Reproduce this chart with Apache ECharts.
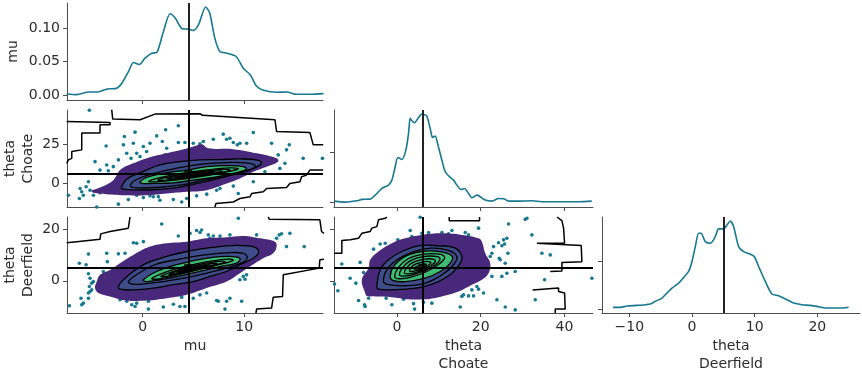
<!DOCTYPE html>
<html>
<head>
<meta charset="utf-8">
<script src="https://cdn.jsdelivr.net/npm/echarts@6/dist/echarts.min.js"></script>
<style>html,body{margin:0;padding:0;background:#fff}#chart{width:862px;height:375px}</style>
</head>
<body>
<div id="chart"></div>
<script>
// point estimates
const muEst = 4.49;
const choateEst = 6.1;
const deerEst = 5.0;

// tick values
const muTicks = [0, 10];
const choateTicks = [0, 20, 40];
const choateRowTicks = [0, 25];
const deerRowTicks = [0, 20];
const deerColTicks = [-10, 0, 10, 20];
const muDensTicks = [0, 0.05, 0.1];
const densTicks = [0, 0.05];

// marginal kde curves
const muGrid = [-7.48,-6.5,-5.3,-4.4,-3.5,-2.7,-2.1,-1.4,-0.9,-0.33,0.23,0.89,1.38,2.0,2.7,3.2,3.9,4.5,5.0,5.5,6.2,6.6,7.1,7.6,8.3,9.2,9.9,10.6,11.2,11.9,13.2,14.2,15.1,16.5,17.8];
const muDensity = [0.0015,0.0005,0.0045,0.0045,0.009,0.0095,0.0165,0.035,0.0485,0.0455,0.055,0.0625,0.0635,0.0925,0.1215,0.115,0.099,0.0985,0.0965,0.105,0.1315,0.1225,0.085,0.065,0.0625,0.0575,0.04,0.03,0.0135,0.007,0.004,0.0045,0.001,0.001,0.002];
const choateGrid = [-14.88,-12.33,-9.55,-8.35,-6.36,-5.17,-3.58,-1.99,-1.19,-0.40,0.24,1.19,2.15,2.78,3.18,3.58,4.22,5.01,5.97,6.76,7.16,7.96,8.51,9.15,9.71,10.74,11.54,12.73,13.52,14.32,15.27,16.15,17.1,17.9,19.1,19.9,21.1,22.7,24.3,25.5,26.7,29.0,32.2,34.6,38.6,43.4,46.5];
const choateDensity = [0.0013,0.0003,0.0016,0.003,0.0033,0.0072,0.0138,0.0171,0.022,0.0352,0.0444,0.0424,0.0516,0.0681,0.0829,0.0806,0.0786,0.0829,0.0872,0.0862,0.0852,0.073,0.0641,0.0655,0.0582,0.0418,0.0303,0.0247,0.022,0.0171,0.0128,0.0138,0.0089,0.0046,0.0072,0.0056,0.0023,0.0013,0.0039,0.0036,0.0013,0.0013,0.0016,0.0007,0.0007,0.0007,0.0013];
const deerGrid = [-12.6,-11.43,-10.37,-8.77,-7.44,-6.65,-5.85,-4.78,-3.99,-3.19,-2.13,-1.33,-0.53,0,0.53,1.06,1.44,2.13,2.92,3.72,4.25,5.05,5.58,6.11,6.65,7.44,8.24,9.3,9.94,10.63,11.7,12.76,13.82,15.15,16.21,17.54,18.87,19.94,21.0,22.6,24.19,24.99];
const deerDensity = [0.0024,0.0024,0.0037,0.0044,0.0051,0.0058,0.0085,0.0119,0.017,0.0221,0.0272,0.033,0.0391,0.0493,0.0646,0.0782,0.0782,0.0697,0.068,0.0748,0.0827,0.0827,0.0867,0.0908,0.085,0.0646,0.0595,0.0568,0.0544,0.0442,0.0289,0.016,0.0143,0.0102,0.0068,0.0051,0.0044,0.0034,0.002,0.0017,0.0017,0.0024];

// scatter draws visible outside the kde fill
const muChoatePts = [[-5.25,46.6],[-0.75,32.7],[-1.8,29.9],[-3.6,23.9],[-1.9,24.6],[-0.92,25.6],[0.07,23.5],[0.39,20.3],[-0.59,19.2],[-0.26,17.1],[-1.15,16.0],[-1.57,19.2],[-4.69,13.9],[-3.54,11.8],[-4.2,8.5],[-3.38,8.1],[-2.89,10.7],[-2.39,15.0],[3.51,36.8],[2.26,34.2],[1.38,30.3],[1.93,26.7],[2.36,22.4],[2.2,18.2],[0.72,25.6],[3.51,26.1],[4.16,26.1],[4.98,25.6],[5.64,25.2],[5.97,26.7],[6.95,28.2],[7.93,31.4],[8.26,28.2],[8.59,28.8],[8.92,26.1],[9.31,24.6],[9.57,25.6],[10.23,25.6],[10.89,32.5],[12.69,25.6],[13.34,18.2],[14.16,21.4],[14.43,24.6],[15.8,16.0],[17.7,16.0],[14.0,12.8],[13.51,9.6],[12.03,7.5],[13.02,15.0],[-7.31,-7.5],[-6.16,-3.2],[-5.34,1.1],[-5.57,-2.1],[-6.0,-5.3],[-5.84,-7.5],[-6.23,-9.6],[-5.18,-4.3],[-4.85,-7.5],[-4.2,-6.0],[-4.52,-15.0],[-2.39,-13.2],[-1.41,-10.3],[-0.59,-7.5],[0.07,-9.0],[0.72,-7.9],[1.05,-8.5],[1.54,-8.4],[1.7,-10.7],[3.02,-10.3],[3.84,-11.8],[4.33,-9.6],[5.31,-7.9],[6.3,-6.8],[7.28,-4.3],[7.61,-3.2],[8.92,-1.7],[10.89,1.1],[9.41,-6.4],[-7.48,-14.5]];
const muDeerPts = [[-7.48,-3.8],[-7.21,-9.6],[-5.34,10.3],[-5.57,6.2],[-5.34,2.7],[-5.18,1.0],[-5.02,-0.9],[-4.85,-0.3],[-5.25,-2.2],[-5.18,-4.1],[-5.02,-3.5],[-5.34,-4.7],[-5.34,-6.7],[-6.07,-6.7],[-5.84,-8.6],[-6.0,-9.2],[-6.23,6.8],[-3.54,10.6],[-3.48,7.4],[-2.39,10.4],[-1.74,10.6],[-0.92,14.7],[-0.59,14.5],[0.07,15.1],[-1.57,7.4],[-3.87,3.6],[-2.23,-7.3],[-1.57,-7.9],[-1.08,-9.2],[-0.75,-9.9],[-0.59,-8.6],[0.56,-10.9],[2.03,-10.1],[3.02,-9.0],[3.84,-6.3],[3.67,-9.9],[4.98,-6.7],[5.64,-5.4],[6.3,-4.7],[7.28,-7.6],[7.44,-7.9],[8.26,-7.9],[8.59,-6.7],[8.1,-10.9],[9.74,-7.9],[9.57,0.4],[9.9,1.7],[10.07,0.6],[10.23,2.3],[1.87,21.9],[3.51,17.3],[4.66,18.3],[5.31,19.4],[5.64,18.6],[5.8,19.6],[6.46,17.7],[6.62,16.4],[6.95,17.3],[7.61,17.3],[8.59,17.7],[9.25,24.7],[9.41,24.1],[11.21,17.7],[13.44,17.7],[13.67,18.1],[13.18,16.4],[14.16,13.2],[14.49,18.3],[15.9,13.2],[17.84,13.8],[4.16,-9.9],[0.56,-7.9]];
const choDeerPts = [[-14.88,-1.2],[-14.08,-3.8],[-13.13,6.5],[-11.14,1.0],[-9.79,-0.9],[-9.15,-7.6],[-8.75,7.1],[-7.72,-9.2],[-7.56,-9.9],[-7.96,3.2],[-6.76,-6.7],[-5.57,12.2],[-3.98,14.2],[-2.78,14.5],[-2.55,-6.7],[-1.19,-9.2],[0.24,15.8],[1.59,-7.1],[3.18,19.4],[3.58,17.1],[3.98,-8.8],[4.22,-10.9],[5.57,24.5],[5.97,18.3],[6.36,-8.3],[8.35,-8.6],[7.56,18.6],[10.74,18.6],[12.33,18.1],[13.13,19.4],[15.12,-10.1],[15.51,-6.0],[15.91,-5.4],[16.31,18.6],[17.1,17.7],[17.1,-5.8],[17.9,-3.5],[18.3,-5.8],[19.09,-2.2],[19.49,20.3],[19.49,-3.2],[20.68,-4.7],[21.08,4.9],[21.72,7.1],[22.28,9.4],[22.67,10.6],[22.67,1.7],[23.07,13.2],[23.87,-7.3],[24.26,14.7],[24.42,8.7],[24.66,8.1],[25.06,13.5],[25.46,15.8],[25.7,14.2],[25.86,6.8],[26.25,16.4],[26.49,10.6],[26.65,21.9],[25.06,1.7],[26.25,2.9],[25.86,-10.1],[28.24,3.6],[28.24,-11.2],[30.63,23.7],[31.03,24.1],[32.22,17.7],[33.02,-7.3],[34.61,10.6],[35.24,0.4],[36.6,10.0],[46.54,1.0]];

// kde contour outlines (mu vs Choate)
const muChoatePurple = [[-5.02,-4.7],[-4.2,-2.6],[-2.89,2.1],[-2.23,8.5],[-0.92,12.8],[0.72,16.7],[2.36,19.2],[3.84,21.4],[4.98,23.5],[5.8,25.0],[6.46,22.4],[8.92,21.8],[11.21,19.2],[13.18,16.0],[13.34,13.9],[12.2,10.7],[10.89,7.5],[9.57,3.2],[8.26,0],[6.3,-4.3],[4.33,-5.3],[2.36,-6.4],[0.39,-7.5],[-1.57,-7.5],[-3.54,-6.8],[-4.85,-6.0]];
const muChoateBlue = [[-2.1,-2.6],[-1.5,3.0],[0.0,7.5],[1.7,11.8],[3.67,13.9],[5.64,15.0],[7.61,15.2],[9.57,15.6],[11.3,14.8],[11.7,12.8],[10.9,9.6],[9.3,6.4],[7.5,3.2],[5.4,0],[3.2,-2.8],[1.05,-4.0],[-0.92,-4.1],[-1.9,-3.6]];
const muChoateMid = [[-1.2,-1.5],[-0.6,2.5],[1.0,6.2],[3.2,9.5],[5.8,12.3],[8.2,13.3],[10.4,13.0],[11.1,11.0],[10.3,8.0],[8.3,4.8],[6.0,2.0],[4.0,-0.8],[1.5,-2.5],[-0.5,-2.8]];
const muChoateGreen = [[-0.26,1.1],[0.39,3.8],[2.03,6.4],[4.33,8.5],[6.3,10.7],[8.26,11.3],[9.9,10.7],[10.23,9.0],[8.92,6.4],[6.95,3.8],[4.98,2.1],[3.02,0.4],[1.05,0],[-0.1,0]];
const muChoateRings = [
  [[0.6,1.4],[1.8,3.8],[3.8,6.4],[6.3,8.6],[8.6,9.9],[9.4,9.3],[7.8,6.8],[5.5,4.2],[3.0,2.0],[1.2,1.0]],
  [[1.5,2.2],[2.5,4.0],[4.2,6.2],[6.4,8.1],[8.2,9.0],[8.6,8.4],[7.3,6.5],[5.4,4.6],[3.3,2.7],[2.0,1.9]],
  [[2.4,3.0],[3.2,4.3],[4.6,6.0],[6.4,7.5],[7.6,8.0],[7.8,7.5],[6.8,6.2],[5.3,5.0],[3.7,3.5],[2.8,2.8]],
  [[3.2,3.8],[3.9,4.7],[5.0,5.9],[6.3,6.9],[7.0,7.2],[7.0,6.8],[6.3,6.0],[5.2,5.2],[4.1,4.2],[3.5,3.7]],
  [[4.0,4.5],[4.6,5.2],[5.3,5.8],[6.0,6.3],[6.3,6.3],[6.1,5.9],[5.4,5.4],[4.6,4.8]]
];

// kde contour outlines (mu vs Deerfield)
const muDeerPurple = [[-4.52,-0.26],[-4.2,2.3],[-3.21,4.2],[-2.23,6.8],[-0.92,10.0],[0.72,13.2],[2.36,14.5],[4.33,15.1],[6.3,16.4],[8.26,16.8],[9.9,17.3],[11.54,16.4],[13.02,15.1],[13.18,13.2],[12.85,10.6],[11.87,8.7],[10.56,5.5],[9.57,2.9],[8.26,-0.3],[6.3,-2.8],[4.33,-5.4],[2.36,-6.7],[0.39,-7.6],[-1.57,-7.6],[-3.21,-6.0],[-4.36,-4.7],[-4.69,-2.8]];
const muDeerBlue = [[-2.39,-2.2],[-1.9,0.4],[-0.92,3.6],[0.39,6.8],[2.36,9.4],[4.33,11.3],[6.3,12.6],[8.26,13.5],[10.23,13.5],[11.21,12.6],[11.38,10.6],[10.89,8.7],[9.57,6.2],[8.26,3.6],[6.62,1.7],[4.98,-0.3],[3.02,-1.5],[1.05,-2.8],[-0.92,-3.5],[-2.23,-3.2]];
const muDeerMid = [[-1.41,-0.3],[-0.4,2.9],[1.2,6.2],[3.5,8.3],[5.9,9.9],[8.26,10.8],[9.9,10.6],[10.3,8.9],[9.8,7.0],[8.3,5.0],[6.3,3.0],[4.3,1.2],[2.2,-0.2],[0.2,-1.2],[-1.0,-1.3]];
const muDeerGreen = [[0.07,0.4],[1.38,3.6],[3.34,6.2],[5.64,8.3],[8.26,9.4],[9.57,8.7],[9.25,6.8],[7.61,5.5],[5.64,3.6],[3.67,1.9],[1.7,0.4],[0.39,-0.3]];
const muDeerRings = [
  [[0.9,0.9],[2.2,3.3],[4.2,5.6],[6.4,7.4],[8.4,8.4],[8.9,7.9],[7.5,6.2],[5.5,4.3],[3.4,2.3],[1.6,0.7]],
  [[1.8,1.7],[2.9,3.5],[4.5,5.3],[6.4,6.9],[7.8,7.6],[8.1,7.2],[7.0,6.0],[5.4,4.5],[3.6,2.8],[2.3,1.7]],
  [[2.6,2.5],[3.5,3.8],[4.8,5.2],[6.3,6.4],[7.2,6.8],[7.3,6.5],[6.5,5.7],[5.3,4.7],[3.9,3.4],[3.0,2.6]],
  [[3.4,3.3],[4.1,4.2],[5.0,5.1],[6.1,5.9],[6.6,6.1],[6.6,5.8],[6.0,5.3],[5.1,4.7],[4.2,3.9],[3.7,3.4]],
  [[4.1,4.0],[4.6,4.6],[5.2,5.1],[5.8,5.5],[6.0,5.5],[5.7,5.1],[5.1,4.7],[4.5,4.2]]
];

// kde contour outlines (Choate vs Deerfield)
const choDeerPurple = [[-7.56,-4.7],[-8.35,0.4],[-6.76,4.9],[-6.36,8.1],[-4.38,11.3],[-1.19,14.5],[1.99,16.4],[5.97,17.7],[10.74,18.3],[15.51,17.7],[19.49,16.4],[20.29,15.1],[21.08,10.6],[22.28,6.8],[21.88,2.9],[20.29,0.4],[17.9,-1.5],[14.72,-4.1],[10.74,-6.0],[6.76,-7.1],[2.78,-7.1],[-1.19,-6.3],[-5.17,-6.0],[-7.16,-5.8]];
const choDeerBlue = [[-4.77,-2.2],[-3.98,4.2],[-1.99,8.1],[1.19,11.3],[5.17,13.5],[9.94,13.5],[13.92,12.6],[15.51,9.4],[15.12,6.8],[13.13,2.9],[9.94,-0.3],[5.97,-2.4],[1.99,-3.2],[-1.99,-3.5],[-4.38,-3.2]];
const choDeerMid = [[-3.18,-0.3],[-2.39,4.2],[0,8.1],[3.4,10.9],[8.2,12.6],[12.33,11.7],[14.32,9.4],[13.52,6.2],[10.74,2.3],[6.76,-0.9],[1.99,-1.9],[-1.99,-1.5]];
const choDeerGreen = [[-1.59,1.7],[-0.8,5.5],[1.99,9.4],[5.97,11.3],[9.94,11.3],[13.13,9.6],[12.73,6.8],[10.34,3.6],[6.76,1.0],[1.99,-0.3],[-0.8,0.1]];
const choDeerRings = [
  [[-0.5,1.5],[0.4,5.2],[2.8,8.6],[6.5,10.3],[10.5,10.2],[11.4,8.8],[9.8,6.2],[7.0,3.5],[3.2,1.3],[0.6,0.8]],
  [[0.6,2.3],[1.4,5.2],[3.4,7.9],[6.6,9.4],[9.7,9.3],[10.3,8.2],[9.0,6.0],[6.6,3.9],[3.5,2.2],[1.4,1.8]],
  [[1.8,3.0],[2.4,5.2],[4.0,7.2],[6.6,8.4],[8.8,8.3],[9.2,7.5],[8.1,5.8],[6.3,4.3],[4.0,3.0],[2.5,2.7]],
  [[3.0,3.8],[3.4,5.2],[4.6,6.5],[6.6,7.4],[7.9,7.3],[8.1,6.8],[7.2,5.6],[5.9,4.6],[4.4,3.8],[3.5,3.6]],
  [[4.2,4.5],[4.5,5.3],[5.3,6.0],[6.4,6.5],[7.0,6.4],[6.9,6.0],[6.3,5.4],[5.4,4.8]]
];

// low-level contour lines along the panel edges
const muChoateEdge1 = [[-7.48,39.5],[-3.21,38.9],[-3.21,37.4],[-4.2,37.4],[-4.2,32.1],[-6.0,32.1],[-6.0,21.4],[-6.98,20.3],[-6.98,16.0],[-7.31,15.0],[-7.48,12.8]];
const muChoateEdge2 = [[-3.05,47.0],[-2.95,41.0],[-0.26,40.6],[1.21,44.2],[5.64,44.4],[5.9,43.4],[13.02,40.6],[13.18,33.1],[16.46,32.5],[16.79,24.6],[17.77,24.6]];
const muChoateEdge3 = [[7.11,-15.0],[7.21,-12.8],[8.92,-11.8],[9.57,-9.6],[10.56,-8.5],[10.72,-6.4],[11.87,-5.3],[12.2,-3.2],[14.16,-2.6],[14.49,0],[15.48,1.1],[15.64,4.3],[16.13,5.3],[16.46,8.5],[17.77,8.5]];
const muDeerEdge1 = [[-7.48,14.7],[-6.49,15.1],[-6.43,15.5],[-4.2,16.0],[-4.13,18.1],[-3.21,19.0],[-3.15,19.6],[-1.41,20.3],[-1.25,24.6]];
const muDeerEdge2 = [[12.36,24.7],[12.46,23.7],[17.44,23.5],[17.61,19.0],[17.84,18.3]];
const muDeerEdge3 = [[17.84,8.3],[17.44,8.1],[17.38,4.9],[13.84,2.3],[13.77,-6.0],[12.85,-6.3],[12.69,-10.5],[11.21,-10.9],[11.15,-12.4]];
const choDeerEdge1 = [[-14.88,10.6],[-13.13,10.6],[-13.13,15.5],[-11.14,15.8],[-10.9,16.4],[-9.15,16.4],[-8.35,18.3],[-6.36,19.0],[-5.97,20.3],[-4.77,20.9],[-4.38,23.5],[-2.78,24.1],[-2.39,24.6]];
const choDeerEdge2 = [[12.49,24.6],[12.49,23.2],[19.73,23.2],[19.73,24.6]];
const choDeerEdge3 = [[38.19,24.6],[39.38,23.2],[39.78,20.3],[40.02,14.5],[33.41,14.5],[33.41,13.8],[43.99,13.6],[44.15,7.4],[39.38,7.1],[39.38,3.8],[36.6,3.6]];
const choDeerEdge4 = [[32.38,-3.5],[38.58,-2.8],[38.58,-4.1],[40.02,-4.7],[40.17,-10.9],[37.79,-10.9],[37.79,-12.4]];

const FONT = 'DejaVu Sans';
const TEAL = '#16788f';
const PURPLE = '#48287a';
const BLUE = '#3e4c8a';
const GREEN = '#3fbc73';

function axis(grid, min, max, ticks, opts) {
    opts = opts || {};
    return {
        type: 'value', gridIndex: grid, min: min, max: max,
        splitLine: { show: false },
        axisLine: { show: true, onZero: false, lineStyle: { color: '#4d4d4d', width: 1 } },
        axisTick: { show: true, length: 4, customValues: ticks, lineStyle: { color: '#4d4d4d' } },
        axisLabel: {
            show: !!opts.labels, customValues: ticks, margin: 7,
            color: '#2b2b2b', fontFamily: FONT, fontSize: 14,
            formatter: opts.fmt || (v => String(v).replace('-', '\u2212'))
        },
        name: opts.name || '', nameLocation: 'middle', nameGap: opts.gap || 0, nameRotate: opts.rotate,
        nameTextStyle: { color: '#2b2b2b', fontFamily: FONT, fontSize: 14, lineHeight: 17.5 }
    };
}

function zip(xs, ys) { return xs.map((x, i) => [x, ys[i]]); }

function kde(i, xs, ys, est) {
    return {
        type: 'line', xAxisIndex: i, yAxisIndex: i, data: zip(xs, ys), smooth: 0.25,
        symbol: 'none', lineStyle: { color: TEAL, width: 1.6 }, z: 2,
        markLine: {
            silent: true, symbol: ['none', 'none'], label: { show: false },
            lineStyle: { color: '#222', width: 2, type: 'solid' }, data: [{ xAxis: est }]
        }
    };
}

function dots(i, pts) {
    return {
        type: 'scatter', xAxisIndex: i, yAxisIndex: i, data: pts, symbol: 'circle',
        symbolSize: 3.6, itemStyle: { color: TEAL, opacity: 1 }, z: 1
    };
}

function polys(i, layers, z) {
    return {
        type: 'custom', xAxisIndex: i, yAxisIndex: i, clip: true, silent: true, z: z,
        data: layers.map(l => l.pts[0]),
        renderItem: function (params, api) {
            const l = layers[params.dataIndex];
            return {
                type: 'polygon',
                shape: { points: l.pts.map(p => api.coord(p)), smooth: 0.4 },
                style: l.style
            };
        }
    };
}

function contours(i, purple, blue, mid, green, rings) {
    const line = { fill: 'none', stroke: '#000', lineWidth: 1.3 };
    return [
        polys(i, [
            { pts: purple, style: { fill: PURPLE } },
            { pts: blue, style: { fill: BLUE } },
            { pts: green, style: { fill: GREEN } }
        ], 3),
        polys(i, [blue, mid, green].concat(rings).map(p => ({ pts: p, style: line })), 4)
    ];
}

function edge(i, pts) {
    return {
        type: 'line', xAxisIndex: i, yAxisIndex: i, data: pts, symbol: 'none',
        lineStyle: { color: '#000', width: 1.5 }, z: 4
    };
}

function estimate(i, x, y) {
    return {
        type: 'scatter', xAxisIndex: i, yAxisIndex: i, data: [[x, y]], symbol: 'rect',
        symbolSize: 8, itemStyle: { color: '#000' }, z: 6,
        markLine: {
            silent: true, symbol: ['none', 'none'], label: { show: false },
            lineStyle: { color: '#000', width: 2, type: 'solid' },
            data: [{ xAxis: x }, { yAxis: y }]
        }
    };
}

const muRange = [-7.45, 17.75];
const choateRange = [-15, 46.8];
const deerRowRange = [-12.4, 24.6];
const deerColRange = [-14.35, 26.8];

const option = {
    animation: false,
    grid: [
        { left: 67, top: 3, width: 256, height: 97 },
        { left: 67, top: 110, width: 256, height: 97 },
        { left: 334, top: 110, width: 259, height: 97 },
        { left: 67, top: 217, width: 256, height: 96 },
        { left: 334, top: 217, width: 259, height: 96 },
        { left: 602, top: 217, width: 258, height: 96 }
    ],
    xAxis: [
        axis(0, muRange[0], muRange[1], muTicks),
        axis(1, muRange[0], muRange[1], muTicks),
        axis(2, choateRange[0], choateRange[1], choateTicks),
        axis(3, muRange[0], muRange[1], muTicks, { labels: true, name: 'mu', gap: 25 }),
        axis(4, choateRange[0], choateRange[1], choateTicks, { labels: true, name: 'theta\nChoate', gap: 25 }),
        axis(5, deerColRange[0], deerColRange[1], deerColTicks, { labels: true, name: 'theta\nDeerfield', gap: 25 })
    ],
    yAxis: [
        axis(0, -0.0075, 0.1375, muDensTicks, { labels: true, fmt: v => v.toFixed(2), name: 'mu', gap: 45, rotate: 90 }),
        axis(1, choateRange[0], choateRange[1], choateRowTicks, { labels: true, name: 'theta\nChoate', gap: 30, rotate: 90 }),
        axis(2, -0.0045, 0.0912, densTicks),
        axis(3, deerRowRange[0], deerRowRange[1], deerRowTicks, { labels: true, name: 'theta\nDeerfield', gap: 30, rotate: 90 }),
        axis(4, deerRowRange[0], deerRowRange[1], deerRowTicks),
        axis(5, -0.0034, 0.0949, densTicks)
    ],
    series: [
        kde(0, muGrid, muDensity, muEst),
        kde(2, choateGrid, choateDensity, choateEst),
        kde(5, deerGrid, deerDensity, deerEst),

        dots(1, muChoatePts),
        ...contours(1, muChoatePurple, muChoateBlue, muChoateMid, muChoateGreen, muChoateRings),
        edge(1, muChoateEdge1), edge(1, muChoateEdge2), edge(1, muChoateEdge3),
        estimate(1, muEst, choateEst),

        dots(3, muDeerPts),
        ...contours(3, muDeerPurple, muDeerBlue, muDeerMid, muDeerGreen, muDeerRings),
        edge(3, muDeerEdge1), edge(3, muDeerEdge2), edge(3, muDeerEdge3),
        estimate(3, muEst, deerEst),

        dots(4, choDeerPts),
        ...contours(4, choDeerPurple, choDeerBlue, choDeerMid, choDeerGreen, choDeerRings),
        edge(4, choDeerEdge1), edge(4, choDeerEdge2), edge(4, choDeerEdge3), edge(4, choDeerEdge4),
        estimate(4, choateEst, deerEst)
    ]
};

const myChart = echarts.init(document.getElementById('chart'));
myChart.setOption(option, true);
</script>
</body>
</html>
